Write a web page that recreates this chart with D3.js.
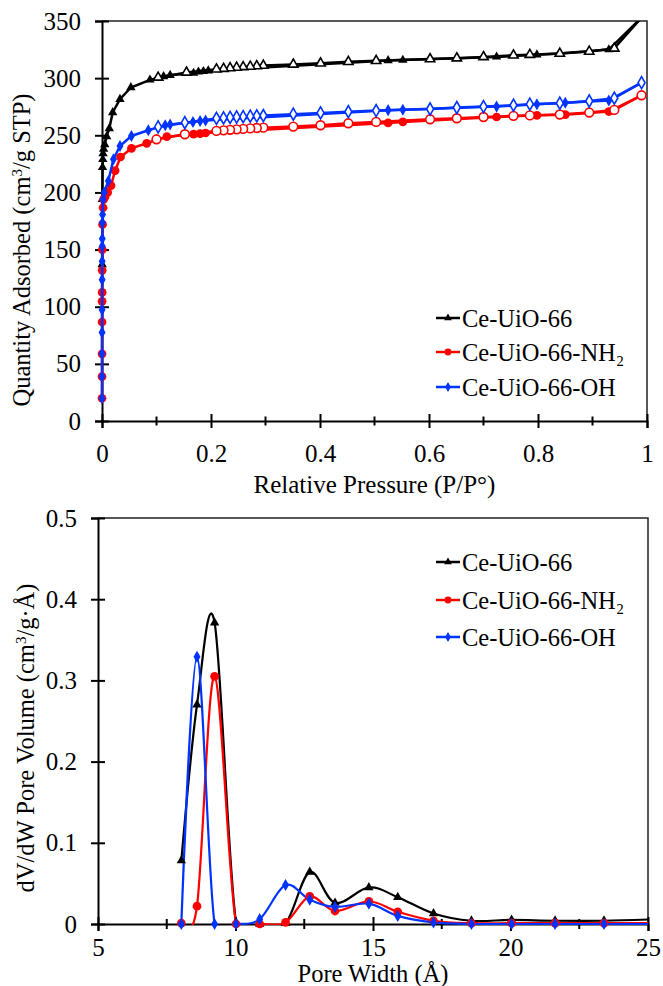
<!-- Load d3.js -->
<script src="https://d3js.org/d3.v7.min.js"></script>

<div id="my_dataviz"></div>

<style>
  body { margin: 0; background: #fff; }
</style>

<script>

// ---------- isotherm data (top chart) ----------
var names = ["Ce-UiO-66", "Ce-UiO-66-NH\u2082", "Ce-UiO-66-OH"]
var colors = ["#000000", "#ff0000", "#0033ff"]
var shapes = [d3.symbolTriangle, d3.symbolCircle, d3.symbolDiamond]

var ceAdsP = [0.0003, 0.0006, 0.001, 0.0015, 0.002, 0.003, 0.005, 0.0086, 0.0134, 0.0196, 0.033, 0.053, 0.088, 0.113, 0.125, 0.168, 0.177, 0.186, 0.195, 0.525, 0.552, 0.724, 0.798, 0.84, 0.93, 0.99]
var ceAdsQ = [137, 194, 222, 229, 234, 238, 242, 249, 256, 270, 281.6, 291.8, 298.5, 301.5, 302.6, 304.4, 305.5, 306, 306.5, 315.5, 315.8, 318.6, 320.5, 321.5, 325, 353]
var ceDesP = [0.99, 0.94, 0.894, 0.84, 0.785, 0.755, 0.7, 0.651, 0.602, 0.503, 0.452, 0.401, 0.351, 0.296, 0.284, 0.272, 0.259, 0.247, 0.235, 0.223, 0.21, 0.155, 0.103]
var ceDesQ = [353, 326, 323.3, 321.5, 320.5, 320, 318.6, 317.5, 316.7, 315.2, 314.3, 313, 312, 311, 310.6, 310.2, 309.8, 309.3, 308.8, 308.3, 307.8, 305, 300.6]

var nh2AdsP = [0.00003, 0.00006, 0.0001, 0.00015, 0.0002, 0.0003, 0.0004, 0.0006, 0.001, 0.002, 0.003, 0.0055, 0.0104, 0.0165, 0.024, 0.034, 0.054, 0.082, 0.119, 0.168, 0.18, 0.19, 0.525, 0.552, 0.724, 0.798, 0.85, 0.93, 0.99]
var nh2AdsQ = [19.9, 38.9, 58.8, 86.6, 104.7, 112.5, 131.8, 150, 172, 186.6, 193.9, 196, 200, 206, 219, 231, 238.5, 243, 248.8, 251, 251.5, 252, 260.8, 261.7, 266, 267.5, 268, 270.8, 285]
var nh2DesP = [0.99, 0.94, 0.894, 0.84, 0.785, 0.755, 0.7, 0.651, 0.602, 0.503, 0.452, 0.401, 0.351, 0.296, 0.284, 0.272, 0.259, 0.247, 0.235, 0.223, 0.21, 0.152, 0.1]
var nh2DesQ = [285, 272.2, 269.9, 268.2, 267.4, 267, 266, 264.9, 264, 261.7, 260.5, 258.8, 257.6, 256.7, 256.4, 256, 255.6, 255.2, 254.8, 254.3, 253.8, 250.9, 246.5]

var ohAdsP = [0.00002, 0.00004, 0.00007, 0.0001, 0.00015, 0.0002, 0.0003, 0.0004, 0.0005, 0.0007, 0.001, 0.002, 0.004, 0.0116, 0.021, 0.033, 0.054, 0.085, 0.116, 0.125, 0.167, 0.18, 0.19, 0.525, 0.552, 0.724, 0.798, 0.85, 0.93, 0.99]
var ohAdsQ = [19.9, 38.9, 58.8, 77.5, 97.4, 123.7, 139.7, 152.9, 159.4, 173.4, 180.7, 193.9, 200, 210, 229, 240.6, 249.4, 254.4, 258.8, 259.5, 261.7, 262.5, 263, 272, 272.3, 275.1, 277.2, 278.5, 280.5, 296]
var ohDesP = [0.99, 0.94, 0.894, 0.84, 0.785, 0.755, 0.7, 0.651, 0.602, 0.503, 0.452, 0.401, 0.351, 0.296, 0.284, 0.272, 0.259, 0.247, 0.235, 0.223, 0.21, 0.152, 0.103]
var ohDesQ = [296, 282.5, 280, 278.1, 277.2, 276.3, 275.1, 274.3, 273, 271.6, 270.6, 269.6, 268.5, 267.3, 267, 266.7, 266.3, 266, 265.6, 265.2, 264.8, 261, 257.3]

var pTicks = [0, 0.2, 0.4, 0.6, 0.8, 1]
var qTicks = [0, 50, 100, 150, 200, 250, 300, 350]

// ---------- pore size data (bottom chart) ----------
var poreW = [8.03, 8.60, 9.24, 10.02, 10.88, 11.82, 12.70, 13.62, 14.85, 15.90, 17.20, 18.58, 20.04, 21.62, 23.40, 25.40]
var ceDv  = [0.078, 0.270, 0.371, 0.002, 0.000, 0.001, 0.064, 0.026, 0.045, 0.033, 0.013, 0.004, 0.005, 0.004, 0.004, 0.006]
var nh2Dv = [0.001, 0.022, 0.305, 0.000, 0.000, 0.002, 0.034, 0.016, 0.028, 0.015, 0.004, 0.001, 0.001, 0.001, 0.001, 0.001]
var ohDv  = [0.000, 0.329, 0.000, 0.000, 0.006, 0.048, 0.030, 0.021, 0.025, 0.010, 0.002, 0.000, 0.000, 0.000, 0.000, 0.000]

var wTicks = [5, 10, 15, 20, 25]
var dvTicks = [0, 0.1, 0.2, 0.3, 0.4, 0.5]

var FONT = "'Liberation Serif', 'Times New Roman', Times, serif"

function pts(xs, ys) { return xs.map(function(v, i){ return [v, ys[i]] }) }

var svg = d3.select("#my_dataviz")
  .append("svg")
    .attr("width", 663)
    .attr("height", 986)
    .style("font-family", FONT)

// ================= TOP: isotherms =================
var x0 = d3.scaleLinear().domain([0, 1]).range([102, 647])
var y0 = d3.scaleLinear().domain([0, 350]).range([421, 21])

// scales for the bottom chart (needed for its clip box)
var x1 = d3.scaleLinear().domain([5, 25]).range([98, 648])
var y1 = d3.scaleLinear().domain([0, 0.5]).range([924, 518])

svg.append("clipPath").attr("id", "clipTop")
  .append("rect").attr("x", 0).attr("y", y0(350)).attr("width", 663).attr("height", 440)
svg.append("clipPath").attr("id", "clipBotLine")
  .append("rect").attr("x", x1(5)).attr("y", y1(0.5)).attr("width", x1(25) - x1(5)).attr("height", y1(0) - y1(0.5) + 1)
svg.append("clipPath").attr("id", "clipBotMark")
  .append("rect").attr("x", 0).attr("y", 500).attr("width", x1(25)).attr("height", 486)

function frame(x, y) {
  var xr = x.range(), yr = y.range()
  svg.append("path")
    .attr("d", "M" + xr[0] + "," + yr[1] + "H" + xr[1] + "V" + yr[0])
    .attr("fill", "none").attr("stroke", "#222").attr("stroke-width", 1.5)
}
frame(x0, y0)

// X axis (major ticks every 0.2, minor every 0.1, crossing the line)
var gx0 = svg.append("g")
  .attr("transform", "translate(0," + y0(0) + ")")
  .call(d3.axisBottom(x0).tickValues(pTicks).tickSize(7).tickPadding(16).tickFormat(d3.format("")))
gx0.selectAll(".tick line").attr("y1", -7)
svg.append("g").selectAll("line")
  .data([0.1, 0.3, 0.5, 0.7, 0.9])
  .enter().append("line")
    .attr("x1", function(d){ return x0(d) }).attr("x2", function(d){ return x0(d) })
    .attr("y1", y0(0) - 4.5).attr("y2", y0(0) + 4.5)
    .attr("stroke", "#000").attr("stroke-width", 2)

// Y axis
var gy0 = svg.append("g")
  .attr("transform", "translate(" + x0(0) + ",0)")
  .call(d3.axisLeft(y0).tickValues(qTicks).tickSize(7).tickPadding(14))
gy0.selectAll(".tick line").attr("x1", 7)

// axis titles
svg.append("text")
  .attr("text-anchor", "middle")
  .attr("x", (x0(0) + x0(1)) / 2)
  .attr("y", 493)
  .style("font-size", "25px")
  .text("Relative Pressure (P/P\u00b0)")

svg.append("text")
  .attr("text-anchor", "middle")
  .attr("transform", "translate(30,250) rotate(-90)")
  .style("font-size", "24.5px")
  .html("Quantity Adsorbed (cm<tspan baseline-shift='super' font-size='15px'>3</tspan>/g STP)")

var line0 = d3.line()
  .x(function(d){ return x0(d[0]) })
  .y(function(d){ return y0(d[1]) })

var topSeries = [
  {ads: pts(ceAdsP, ceAdsQ), des: pts(ceDesP, ceDesQ)},
  {ads: pts(nh2AdsP, nh2AdsQ), des: pts(nh2DesP, nh2DesQ)},
  {ads: pts(ohAdsP, ohAdsQ), des: pts(ohDesP, ohDesQ)}
]
var markerSize = [38, 60, 42]

var topPlot = svg.append("g").attr("clip-path", "url(#clipTop)")
topSeries.forEach(function(s, i) {
  var g = topPlot.append("g")
  g.append("path").datum(s.des).attr("d", line0)
    .attr("fill", "none").attr("stroke", colors[i]).attr("stroke-width", 2.5)
  g.append("path").datum(s.ads).attr("d", line0)
    .attr("fill", "none").attr("stroke", colors[i]).attr("stroke-width", 2.5)
  g.selectAll(".ads").data(s.ads).enter().append("path")
    .attr("d", d3.symbol().type(shapes[i]).size(markerSize[i]))
    .attr("transform", function(d){ return "translate(" + x0(d[0]) + "," + y0(d[1]) + ")" })
    .attr("fill", colors[i])
  g.selectAll(".des").data(s.des).enter().append("path")
    .attr("d", d3.symbol().type(shapes[i]).size(markerSize[i]))
    .attr("transform", function(d){ return "translate(" + x0(d[0]) + "," + y0(d[1]) + ")" })
    .attr("fill", "#fff").attr("stroke", colors[i]).attr("stroke-width", 1.6)
})

// legend
function legend(x, ys, sizes) {
  names.forEach(function(n, i) {
    svg.append("line")
      .attr("x1", x).attr("x2", x + 24).attr("y1", ys[i]).attr("y2", ys[i])
      .attr("stroke", colors[i]).attr("stroke-width", 2.5)
    svg.append("path")
      .attr("d", d3.symbol().type(shapes[i]).size(sizes[i]))
      .attr("transform", "translate(" + (x + 12) + "," + ys[i] + ")")
      .attr("fill", colors[i])
    svg.append("text")
      .attr("x", x + 26).attr("y", ys[i]).attr("dy", "0.35em")
      .style("font-size", "24.5px")
      .text(n)
  })
}
legend(436, [318, 352, 387], [26, 36, 28])

// ================= BOTTOM: pore size distribution =================
frame(x1, y1)

var gx1 = svg.append("g")
  .attr("transform", "translate(0," + y1(0) + ")")
  .call(d3.axisBottom(x1).tickValues(wTicks).tickSize(7).tickPadding(7))
gx1.selectAll(".tick line").attr("y1", -7)
svg.append("g").selectAll("line")
  .data([7.5, 12.5, 17.5, 22.5])
  .enter().append("line")
    .attr("x1", function(d){ return x1(d) }).attr("x2", function(d){ return x1(d) })
    .attr("y1", y1(0) - 5).attr("y2", y1(0) + 5)
    .attr("stroke", "#000").attr("stroke-width", 2)

var gy1 = svg.append("g")
  .attr("transform", "translate(" + x1(5) + ",0)")
  .call(d3.axisLeft(y1).tickValues(dvTicks).tickSize(7).tickPadding(14).tickFormat(d3.format("")))
gy1.selectAll(".tick line").attr("x1", 7)

svg.append("text")
  .attr("text-anchor", "middle")
  .attr("x", (x1(5) + x1(25)) / 2)
  .attr("y", 982)
  .style("font-size", "24.5px")
  .text("Pore Width (\u00c5)")

svg.append("text")
  .attr("text-anchor", "middle")
  .attr("transform", "translate(34,738) rotate(-90)")
  .style("font-size", "24.5px")
  .html("dV/dW Pore Volume (cm<tspan baseline-shift='super' font-size='15px'>3</tspan>/g\u00b7\u00c5)")

// smoothed lines, like the spreadsheet "smoothed line" option
var line1 = d3.line()
  .curve(d3.curveCardinal.tension(0))
  .x(function(d){ return x1(d[0]) })
  .y(function(d){ return y1(d[1]) })

var botSeries = [pts(poreW, ceDv), pts(poreW, nh2Dv), pts(poreW, ohDv)]
var botLines = svg.append("g").attr("clip-path", "url(#clipBotLine)")
var botMarks = svg.append("g").attr("clip-path", "url(#clipBotMark)")
botSeries.forEach(function(s, i) {
  botLines.append("path").datum(s).attr("d", line1)
    .attr("fill", "none").attr("stroke", colors[i]).attr("stroke-width", 2.2)
})
botSeries.forEach(function(s, i) {
  botMarks.append("g").selectAll("path").data(s).enter().append("path")
    .attr("d", d3.symbol().type(shapes[i]).size(markerSize[i]))
    .attr("transform", function(d){ return "translate(" + x1(d[0]) + "," + y1(d[1]) + ")" })
    .attr("fill", colors[i])
})

legend(436, [562, 600, 637], [26, 36, 28])

// common axis styling
svg.selectAll("g").attr("font-family", null).attr("font-size", null)
svg.selectAll(".domain").attr("stroke", "#000").attr("stroke-width", 2)
svg.selectAll(".tick line").attr("stroke", "#000").attr("stroke-width", 2)
svg.selectAll(".tick text").style("font-size", "25px").attr("fill", "#000")
svg.selectAll("text").style("font-family", FONT)

</script>
